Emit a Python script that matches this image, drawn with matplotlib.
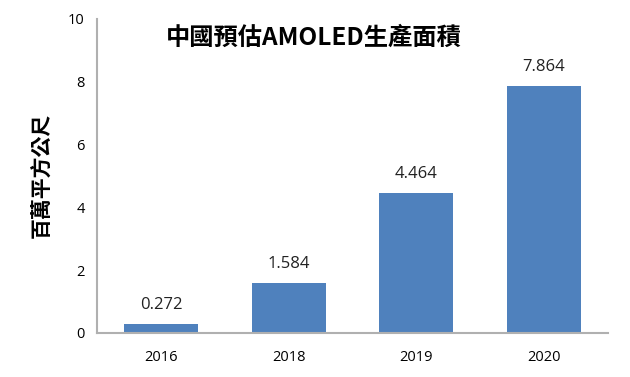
import matplotlib
matplotlib.use('Agg')
import matplotlib.pyplot as plt

plt.rcParams['font.family'] = ['Noto Sans CJK TC', 'DejaVu Sans']

years = ['2016', '2018', '2019', '2020']
area = [0.272, 1.584, 4.464, 7.864]
labels = ['0.272', '1.584', '4.464', '7.864']
yticks = [0, 2, 4, 6, 8, 10]

fig = plt.figure(figsize=(6.3, 3.77), dpi=100)
ax = fig.add_axes([0.154, 0.117, 0.811, 0.833])

x = range(len(years))
bars = ax.bar(x, area, width=0.58, color='#4f81bd')
for xi, v, t in zip(x, area, labels):
    ax.text(xi, v + 0.35, t, ha='center', va='bottom', fontsize=12,
            family=['Open Sans', 'DejaVu Sans'], color='#222222')

ax.set_xlim(-0.5, 3.5)
ax.set_ylim(0, 10)
ax.set_xticks(list(x))
ax.set_xticklabels(years, family=['Open Sans', 'DejaVu Sans'], fontsize=10.5)
ax.set_yticks(yticks)
ax.set_yticklabels([str(t) for t in yticks], family=['Open Sans', 'DejaVu Sans'], fontsize=10.5)
ax.tick_params(length=0, pad=12)
ax.tick_params(axis='y', pad=9)

for s in ['top', 'right']:
    ax.spines[s].set_visible(False)
for s in ['left', 'bottom']:
    ax.spines[s].set_color('#b0b0b0')
    ax.spines[s].set_linewidth(1.5)

ax.set_ylabel('百萬平方公尺', fontsize=15, fontweight='bold', labelpad=12)
ax.text(0.425, 0.94, '中國預估AMOLED生產面積', transform=ax.transAxes,
        ha='center', va='center', fontsize=17.5, fontweight='bold')

fig.savefig('out.png', dpi=100)
